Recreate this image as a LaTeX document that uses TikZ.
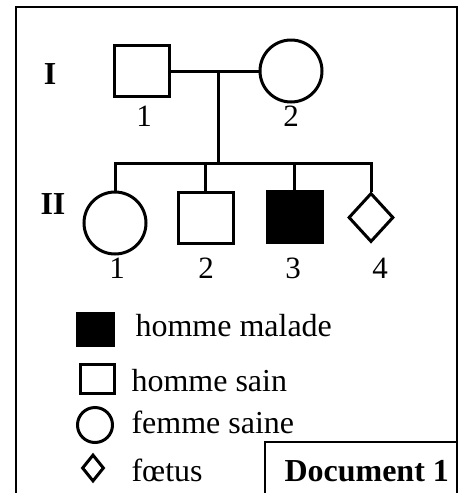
\documentclass[tikz,border=0pt]{standalone}
\usepackage{fontspec}
\setmainfont{Liberation Serif}
\usetikzlibrary{shapes.geometric}
\tikzset{>=latex}

\begin{document}
\begin{tikzpicture}[x=0.5pt, y=-0.5pt, line width=1.5pt,
    male/.style={draw, rectangle, inner sep=0pt, minimum width=27.5pt, minimum height=25.5pt},
    female/.style={draw, circle, inner sep=0pt, minimum size=31pt},
    foetus/.style={draw, diamond, inner sep=0pt, minimum width=22.5pt, minimum height=24.5pt},
    sick/.style={fill=black},
    txt/.style={anchor=base, inner sep=0pt, font=\fontsize{15.5}{18}\selectfont},
    lgtxt/.style={anchor=base west, inner sep=0pt, font=\fontsize{16}{19}\selectfont},
    gen/.style={anchor=base, inner sep=0pt, font=\fontsize{16}{18}\selectfont\bfseries},
    frame/.style={line width=1pt}]
    \useasboundingbox (0,0) rectangle (473,493);

    % Frame
    \draw[frame] (16,494) -- (16,7) -- (457,7) -- (457,494);
    \draw[frame] (265,494) -- (265,442) -- (457,442);

    % Generation I
    \node[male] (I1) at (142,71) {};
    \node[female] (I2) at (291,71) {};
    \node[gen] (gI) at (50,84) {I};
    \node[txt] (n11) at (144,126) {1};
    \node[txt] (n12) at (291,126) {2};

    % Generation II
    \node[female] (II1) at (115,223) {};
    \node[male] (II2) at (205.5,217.5) {};
    \node[male, sick] (II3) at (294.5,217) {};
    \node[foetus] (II4) at (371,217.5) {};
    \node[gen] (gII) at (53,214) {II};
    \node[txt] (n21) at (117,278) {1};
    \node[txt] (n22) at (206,278) {2};
    \node[txt] (n23) at (293,278) {3};
    \node[txt] (n24) at (380,278) {4};

    % Lines
    \coordinate (mid) at (218,71);
    \coordinate (sib) at (218,163);
    \draw (I1.east) -- (I2.west);
    \draw (mid) -- (sib);
    \draw (II1.north) |- (sib) -| (II4.north);
    \draw (II2.north) -- (II2.north |- sib);
    \draw (II3.north) -- (II3.north |- sib);

    % Legend
    \node[male, sick, minimum width=18pt, minimum height=16pt] (lg1) at (95.5,329) {};
    \node[male, minimum width=17pt, minimum height=14.5pt] (lg2) at (97,379) {};
    \node[female, minimum size=17.5pt] (lg3) at (95,425) {};
    \node[foetus, minimum width=11pt, minimum height=13.5pt] (lg4) at (93,468) {};
    \node[lgtxt] (t1) at (134,336) {homme malade};
    \node[lgtxt] (t2) at (130,391) {homme sain};
    \node[lgtxt] (t3) at (130,433) {femme saine};
    \node[lgtxt] (t4) at (130,481) {fœtus};

    % Text
    \node[gen, anchor=base west] (doc) at (283,481) {Document 1};
\end{tikzpicture}
\end{document}
